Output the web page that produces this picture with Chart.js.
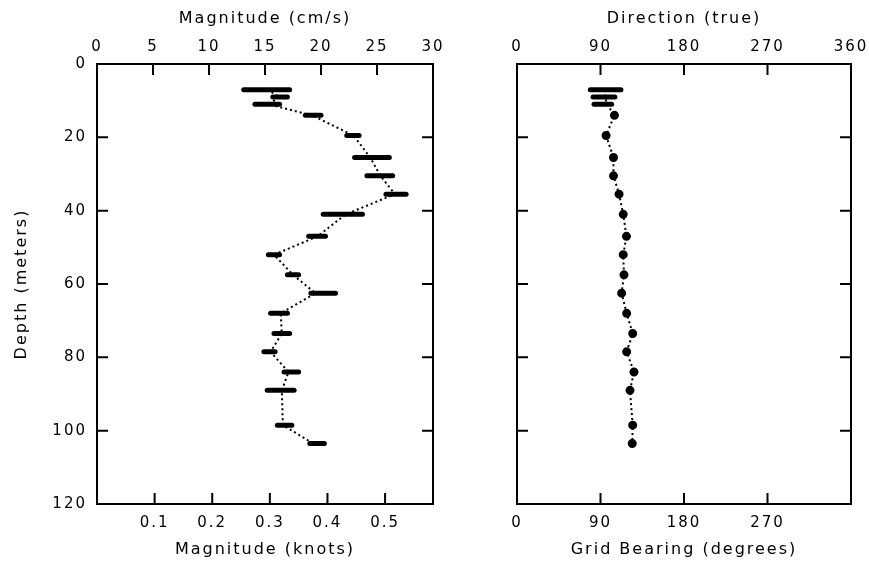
<!DOCTYPE html>
<html>
<head>
<meta charset="utf-8">
<script src="https://cdn.jsdelivr.net/npm/chart.js@4.4.0/dist/chart.umd.min.js"></script>
<style>
  html, body { margin: 0; padding: 0; background: #fff; }
  #wrap { position: relative; width: 869px; height: 564px; }
  #c1 { position: absolute; left: 0; top: 0; }
  #c2 { position: absolute; left: 470px; top: 0; }
</style>
</head>
<body>
<div id="wrap">
  <canvas id="c1" width="470" height="564"></canvas>
  <canvas id="c2" width="399" height="564"></canvas>
</div>
<script>
// profundidades (m)
const depths = [7, 9, 11, 14, 19.5, 25.5, 30.5, 35.5, 41, 47, 52, 57.5, 62.5, 68, 73.5, 78.5, 84, 89, 98.5, 103.5];

// magnitude (cm/s): ponto e extensão da barra
const magMid = [15.2, 16.3, 15.3, 19.2, 22.9, 24.4, 25.3, 26.6, 22.2, 19.7, 15.8, 17.5, 19.5, 16.4, 16.5, 15.5, 17.1, 16.5, 16.6, 19.3];
const magLo  = [13.1, 15.7, 14.1, 18.6, 22.3, 23.0, 24.1, 25.8, 20.2, 18.9, 15.3, 17.0, 19.1, 15.5, 15.8, 14.9, 16.7, 15.2, 16.1, 19.0];
const magHi  = [17.2, 17.0, 16.3, 20.0, 23.4, 26.1, 26.4, 27.6, 23.7, 20.4, 16.3, 18.0, 21.3, 17.0, 17.2, 15.9, 18.0, 17.6, 17.4, 20.3];

// direção (graus)
const dirMid = [96, 95, 97, 105, 96, 104, 104, 110, 114.5, 118, 114.5, 115.3, 112.8, 118.2, 124.7, 118.2, 126.1, 121.8, 124.7, 124.2];
const dirLo  = [79, 82, 83, null, null, null, null, null, null, null, null, null, null, null, null, null, null, null, null, null];
const dirHi  = [112, 105.5, 102, null, null, null, null, null, null, null, null, null, null, null, null, null, null, null, null, null];

// rótulos dos eixos
const depthTicks = [0, 20, 40, 60, 80, 100, 120];
const cmsTicks = [0, 5, 10, 15, 20, 25, 30];
const knotTicks = [0.1, 0.2, 0.3, 0.4, 0.5];
const bearingTopTicks = [0, 90, 180, 270, 360];
const bearingBottomTicks = [0, 90, 180, 270];
const CMS_PER_KNOT = 51.444;

Chart.defaults.font.family = "'DejaVu Sans', sans-serif";
Chart.defaults.color = '#000';

// moldura e marcas dos ticks para dentro
const framePlugin = {
  id: 'frame',
  beforeDraw(chart) {
    chart.ctx.letterSpacing = '2px';
  },
  afterDraw(chart) {
    const { ctx, chartArea: a } = chart;
    ctx.save();
    ctx.strokeStyle = '#000';
    ctx.lineWidth = 2;
    ctx.strokeRect(a.left, a.top, a.right - a.left, a.bottom - a.top);
    const len = 11;
    ctx.beginPath();
    Object.values(chart.scales).forEach(s => {
      s.ticks.forEach(t => {
        const p = s.getPixelForValue(t.value);
        if (s.isHorizontal()) {
          if (p <= a.left + 2 || p >= a.right - 2) return;
          const y0 = s.position === 'top' ? a.top : a.bottom;
          const dir = s.position === 'top' ? 1 : -1;
          ctx.moveTo(p, y0);
          ctx.lineTo(p, y0 + dir * len);
        } else {
          if (p <= a.top + 2 || p >= a.bottom - 2) return;
          ctx.moveTo(a.left, p);
          ctx.lineTo(a.left + len, p);
          ctx.moveTo(a.right, p);
          ctx.lineTo(a.right - len, p);
        }
      });
    });
    ctx.stroke();
    ctx.restore();
  }
};

// barras horizontais
const errorBarPlugin = {
  id: 'errorBars',
  afterDatasetsDraw(chart) {
    const ctx = chart.ctx;
    chart.data.datasets.forEach(ds => {
      if (!ds.errLo) return;
      const xs = chart.scales.x, ys = chart.scales.y;
      ctx.save();
      ctx.strokeStyle = '#000';
      ctx.lineWidth = 5;
      ctx.lineCap = 'round';
      ds.errLo.forEach((lo, j) => {
        const hi = ds.errHi[j];
        if (lo == null) return;
        const y = ys.getPixelForValue(ds.data[j].y);
        ctx.beginPath();
        ctx.moveTo(xs.getPixelForValue(lo), y);
        ctx.lineTo(xs.getPixelForValue(hi), y);
        ctx.stroke();
      });
      ctx.restore();
    });
  }
};

const setTicks = arr => scale => { scale.ticks = arr.map(v => ({ value: v })); };
const fixH = h => s => { s.height = h; };
const fixW = w => s => { s.width = w; };

const tickFont = { size: 15 };
const titleFont = { size: 16 };

function depthAxis(showLabels, width) {
  return {
    type: 'linear',
    position: 'left',
    reverse: true,
    min: 0,
    max: 120,
    grid: { display: false },
    border: { display: false },
    afterBuildTicks: setTicks(depthTicks),
    afterFit: fixW(width),
    ticks: { display: showLabels, font: tickFont, padding: 2 },
    title: {
      display: showLabels,
      text: 'Depth (meters)',
      font: titleFont,
      padding: { top: 12 }
    }
  };
}

function topAxis(min, max, ticks, text) {
  return {
    type: 'linear',
    position: 'top',
    min: min,
    max: max,
    grid: { display: false },
    border: { display: false },
    afterBuildTicks: setTicks(ticks),
    afterFit: fixH(64),
    ticks: { font: tickFont, padding: 0, autoSkip: false, maxRotation: 0 },
    title: { display: true, text: text, font: titleFont, padding: { top: 9, bottom: 0 } }
  };
}

function bottomAxis(min, max, ticks, text) {
  return {
    type: 'linear',
    position: 'bottom',
    min: min,
    max: max,
    grid: { display: false },
    border: { display: false },
    afterBuildTicks: setTicks(ticks),
    afterFit: fixH(60),
    ticks: { font: tickFont, padding: 2, autoSkip: false, maxRotation: 0 },
    title: { display: true, text: text, font: titleFont, padding: { top: 0, bottom: 5 } }
  };
}

// Painel esquerdo: magnitude
new Chart(document.getElementById('c1'), {
  type: 'scatter',
  data: {
    datasets: [{
      data: magMid.map((v, i) => ({ x: v, y: depths[i] })),
      errLo: magLo,
      errHi: magHi,
      showLine: true,
      borderColor: '#000',
      borderWidth: 2,
      borderDash: [2, 3],
      pointRadius: 0,
      xAxisID: 'x',
      yAxisID: 'y'
    }]
  },
  options: {
    responsive: false,
    animation: false,
    layout: { padding: { left: 0, right: 37, top: 0, bottom: 0 } },
    plugins: { legend: { display: false }, tooltip: { enabled: false } },
    scales: {
      x: topAxis(0, 30, cmsTicks, 'Magnitude (cm/s)'),
      x2: bottomAxis(0, 30 / CMS_PER_KNOT, knotTicks, 'Magnitude (knots)'),
      y: depthAxis(true, 97)
    }
  },
  plugins: [framePlugin, errorBarPlugin]
});

// Painel direito: direção
new Chart(document.getElementById('c2'), {
  type: 'scatter',
  data: {
    datasets: [{
      data: dirMid.map((v, i) => ({ x: v, y: depths[i] })),
      errLo: dirLo,
      errHi: dirHi,
      showLine: true,
      borderColor: '#000',
      borderWidth: 2,
      borderDash: [2, 3],
      pointRadius: c => dirLo[c.dataIndex] == null ? 3.5 : 0,
      pointBackgroundColor: '#000',
      pointBorderColor: '#000',
      xAxisID: 'x',
      yAxisID: 'y'
    }]
  },
  options: {
    responsive: false,
    animation: false,
    layout: { padding: { left: 0, right: 18, top: 0, bottom: 0 } },
    plugins: { legend: { display: false }, tooltip: { enabled: false } },
    scales: {
      x: topAxis(0, 360, bearingTopTicks, 'Direction (true)'),
      x2: bottomAxis(0, 360, bearingBottomTicks, 'Grid Bearing (degrees)'),
      y: depthAxis(false, 47)
    }
  },
  plugins: [framePlugin, errorBarPlugin]
});
</script>
</body>
</html>
